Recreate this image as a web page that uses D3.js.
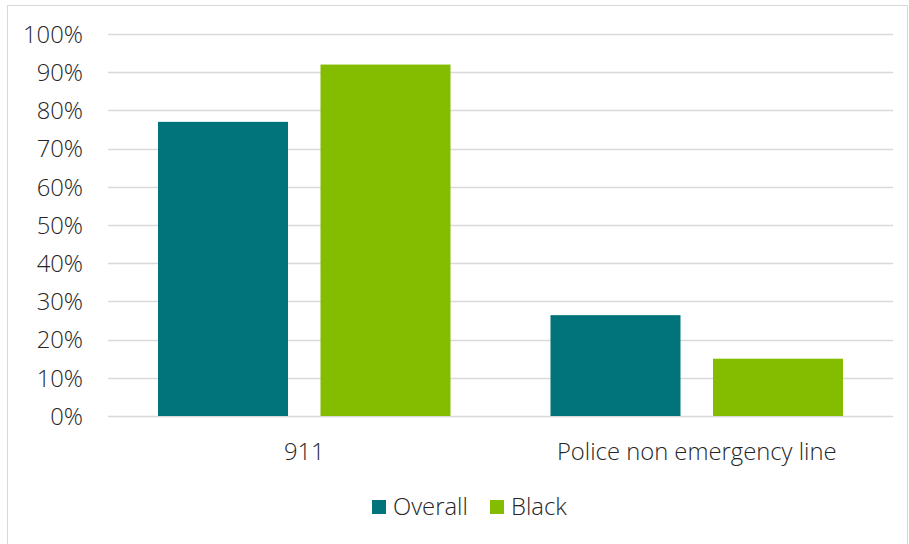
<!DOCTYPE html>
<html>
<head>
<meta charset="utf-8">
<script src="https://cdn.jsdelivr.net/npm/d3@7"></script>
<style>
  html, body { margin: 0; padding: 0; background: #fff; }
  svg text { font-family: "Open Sans", "Noto Sans", sans-serif; fill: #262626; font-weight: 300; }
</style>
</head>
<body>
<svg id="chart" width="909" height="544"></svg>
<script>
// Share of respondents who would contact each service
const categories = ["911", "Police non emergency line"];
const seriesNames = ["Overall", "Black"];
const overallValues = [0.77, 0.264];
const blackValues = [0.92, 0.15];
const seriesColors = ["#00747A", "#84BD00"];
const yTicks = [0, 0.1, 0.2, 0.3, 0.4, 0.5, 0.6, 0.7, 0.8, 0.9, 1.0];

const rows = categories.map((c, i) => ({
  category: c,
  values: [
    { series: seriesNames[0], value: overallValues[i] },
    { series: seriesNames[1], value: blackValues[i] }
  ]
}));

const svg = d3.select("#chart");
const W = 909, H = 544;
const plot = { left: 108, right: 893, top: 34, bottom: 416 };
const fontSize = 23.8;

// outer frame
svg.append("rect")
  .attr("x", 7.5).attr("y", 5.5)
  .attr("width", W - 9).attr("height", H)
  .attr("fill", "none").attr("stroke", "#d9d9d9").attr("stroke-width", 1);

const x0 = d3.scaleBand().domain(categories).range([plot.left, plot.right]).paddingInner(0).paddingOuter(0);
const x1 = d3.scaleBand().domain(seriesNames).range([50, x0.bandwidth() - 50]).paddingInner(0.2).paddingOuter(0);
const y = d3.scaleLinear().domain([0, 1]).range([plot.bottom, plot.top]);
const color = d3.scaleOrdinal().domain(seriesNames).range(seriesColors);

// gridlines
svg.append("g")
  .selectAll("line")
  .data(yTicks)
  .join("line")
  .attr("x1", plot.left).attr("x2", plot.right)
  .attr("y1", d => Math.round(y(d)) + 0.5).attr("y2", d => Math.round(y(d)) + 0.5)
  .attr("stroke", "#d9d9d9").attr("stroke-width", 1.3);

// y axis labels
const yAxis = d3.axisLeft(y).tickValues(yTicks).tickFormat(d3.format(".0%")).tickSize(0).tickPadding(0);
const yg = svg.append("g").attr("transform", `translate(83,0)`).call(yAxis);
yg.select(".domain").remove();
yg.selectAll("text").attr("font-size", fontSize).attr("font-family", null).attr("fill", null).attr("dy", "0.35em");

// bars
const groups = svg.append("g")
  .selectAll("g")
  .data(rows)
  .join("g")
  .attr("transform", d => `translate(${x0(d.category)},0)`);

groups.selectAll("rect")
  .data(d => d.values)
  .join("rect")
  .attr("x", d => x1(d.series))
  .attr("width", x1.bandwidth())
  .attr("y", d => y(d.value))
  .attr("height", d => y(0) - y(d.value))
  .attr("fill", d => color(d.series));

// x axis labels
const xAxis = d3.axisBottom(x0).tickSize(0).tickPadding(0);
const xg = svg.append("g").attr("transform", `translate(0,${plot.bottom + 36})`).call(xAxis);
xg.select(".domain").remove();
xg.selectAll("text").attr("font-size", fontSize).attr("font-family", null).attr("fill", null).attr("dy", "0.35em");

// legend
const legendItems = [
  { name: seriesNames[0], x: 372 },
  { name: seriesNames[1], x: 490 }
];
const lg = svg.append("g").selectAll("g").data(legendItems).join("g")
  .attr("transform", d => `translate(${d.x},500)`);
lg.append("rect").attr("width", 14).attr("height", 14).attr("fill", d => color(d.name));
lg.append("text").attr("x", 21).attr("y", 7).attr("dy", "0.35em").attr("font-size", fontSize).text(d => d.name);
</script>
</body>
</html>
